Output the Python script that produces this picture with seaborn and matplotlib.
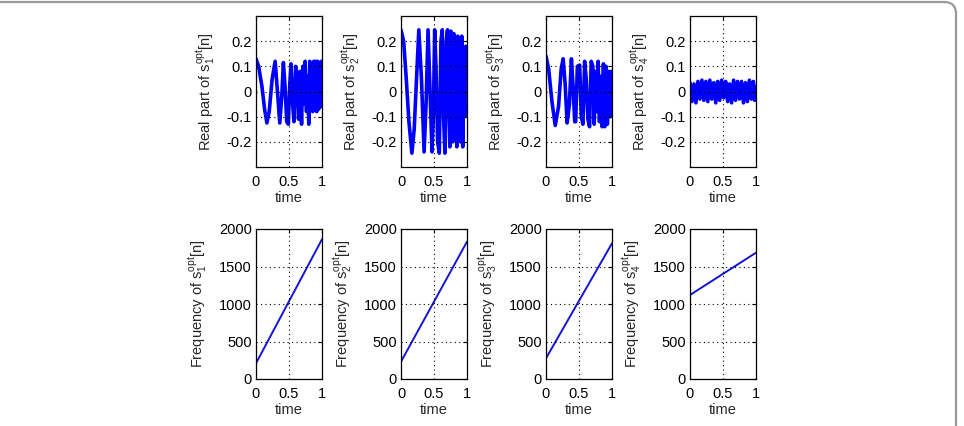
import numpy as np
import pandas as pd
import matplotlib
matplotlib.use("Agg")
import matplotlib.pyplot as plt
from matplotlib.patches import FancyBboxPatch
import seaborn as sns

# ---------------- data ----------------
t1 = [0.00, 0.04, 0.09, 0.13, 0.165, 0.20, 0.245, 0.29, 0.325, 0.36, 0.39, 0.415, 0.44,
      0.465, 0.49, 0.51, 0.53, 0.555, 0.575, 0.60, 0.62, 0.645, 0.665, 0.69, 0.71, 0.73,
      0.745, 0.765, 0.78, 0.80, 0.815, 0.83, 0.845, 0.86, 0.875, 0.89, 0.905, 0.92, 0.935,
      0.95, 0.965, 0.98, 0.99, 1.00]
v1 = [0.13, 0.10, 0.02, -0.07, -0.125, -0.08, 0.05, 0.12, 0.00, -0.125, -0.02, 0.115, 0.02,
      -0.12, -0.13, 0.02, 0.11, -0.05, -0.12, 0.10, 0.05, -0.11, 0.08, -0.13, 0.10, -0.05,
      0.12, -0.08, 0.06, -0.13, 0.12, -0.02, 0.10, -0.08, 0.12, -0.07, 0.12, -0.08, 0.12,
      -0.07, 0.10, -0.06, 0.12, 0.05]

t2 = [0.00, 0.04, 0.08, 0.12, 0.165, 0.20, 0.235, 0.27, 0.31, 0.35, 0.38, 0.41, 0.44, 0.47,
      0.49, 0.51, 0.53, 0.555, 0.58, 0.605, 0.625, 0.645, 0.665, 0.685, 0.705, 0.72, 0.74,
      0.755, 0.77, 0.785, 0.80, 0.815, 0.83, 0.845, 0.86, 0.875, 0.89, 0.905, 0.92, 0.935,
      0.95, 0.965, 0.98, 1.00]
v2 = [0.245, 0.20, 0.05, -0.12, -0.245, -0.15, 0.05, 0.245, 0.05, -0.24, -0.05, 0.245, 0.0,
      -0.24, -0.10, 0.245, 0.10, -0.20, -0.245, 0.20, 0.245, -0.10, -0.245, 0.20, 0.245,
      -0.05, -0.22, 0.24, 0.05, -0.20, 0.23, -0.10, 0.15, -0.22, 0.22, -0.05, 0.20, -0.20,
      0.22, -0.22, 0.15, -0.10, 0.18, 0.10]

t3 = [0.00, 0.04, 0.09, 0.14, 0.19, 0.23, 0.26, 0.29, 0.32, 0.355, 0.385, 0.41, 0.435, 0.45,
      0.475, 0.51, 0.535, 0.56, 0.585, 0.61, 0.635, 0.66, 0.685, 0.71, 0.73, 0.75, 0.77,
      0.79, 0.81, 0.83, 0.85, 0.87, 0.89, 0.91, 0.93, 0.95, 0.97, 0.99, 1.00]
v3 = [0.14, 0.09, -0.04, -0.135, -0.06, 0.09, 0.13, 0.03, -0.125, -0.05, 0.13, 0.02, -0.12,
      -0.12, 0.10, 0.105, -0.10, -0.13, 0.12, 0.05, -0.11, -0.14, 0.12, 0.10, -0.13, 0.08,
      -0.08, 0.12, -0.12, 0.06, -0.14, 0.11, -0.14, 0.10, -0.13, 0.08, -0.10, 0.08, 0.07]

t4 = [0.00, 0.03, 0.06, 0.09, 0.12, 0.15, 0.18, 0.21, 0.24, 0.27, 0.30, 0.33, 0.36, 0.39,
      0.42, 0.45, 0.48, 0.51, 0.54, 0.57, 0.60, 0.63, 0.66, 0.69, 0.72, 0.75, 0.78, 0.81,
      0.84, 0.87, 0.90, 0.93, 0.96, 0.98, 1.00]
v4 = [0.035, -0.04, 0.03, -0.045, 0.04, -0.03, 0.045, -0.035, 0.04, -0.04, 0.045, -0.03,
      0.035, -0.045, 0.04, -0.035, 0.045, -0.025, 0.04, -0.04, 0.03, -0.045, 0.045, -0.035,
      0.04, -0.03, 0.04, -0.045, 0.035, -0.04, 0.045, -0.03, 0.04, -0.035, 0.02]

freq_t = [0.0, 1.0]
f1 = [209, 1863]
f2 = [231, 1831]
f3 = [276, 1809]
f4 = [1120, 1684]

real_series = [(t1, v1), (t2, v2), (t3, v3), (t4, v4)]
freq_series = [f1, f2, f3, f4]
indices = ["1", "2", "3", "4"]

real_yticks = [-0.2, -0.1, 0, 0.1, 0.2]
real_yticklabels = ["-0.2", "-0.1", "0", "0.1", "0.2"]
freq_yticks = [0, 500, 1000, 1500, 2000]
xticks = [0, 0.5, 1]
xticklabels = ["0", "0.5", "1"]

# ---------------- style ----------------
sns.set_style("white")
plt.rcParams["font.family"] = ["Liberation Sans", "DejaVu Sans"]
plt.rcParams["mathtext.fontset"] = "custom"
plt.rcParams["mathtext.rm"] = "Liberation Sans"
plt.rcParams["mathtext.it"] = "Liberation Sans"
plt.rcParams["mathtext.bf"] = "Liberation Sans:bold"

W, H = 964, 426
fig = plt.figure(figsize=(W / 100, H / 100), dpi=100)
fig.patch.set_facecolor("white")

lefts = [256, 401, 546, 690]
ax_w = 66
top_row = (16, 167)
bot_row = (229, 379)


def style_axes(ax):
    for s in ax.spines.values():
        s.set_color("black")
        s.set_linewidth(0.9)
        s.set_visible(True)
    ax.tick_params(direction="in", length=3, width=0.8, top=True, right=True,
                   labelsize=10.5, colors="black", pad=3)
    ax.tick_params(axis="x", pad=5.5)
    ax.grid(True, linestyle=(0, (1, 3)), color="black", linewidth=0.8)
    ax.set_axisbelow(False)
    ax.set_facecolor("white")


for i in range(4):
    L = lefts[i]
    # top row
    ax = fig.add_axes([L / W, 1 - top_row[1] / H, ax_w / W, (top_row[1] - top_row[0]) / H])
    tt, vv = real_series[i]
    df = pd.DataFrame({"time": tt, "value": vv})
    sns.lineplot(data=df, x="time", y="value", ax=ax, color="#0000ff", linewidth=2.6,
                 estimator=None, sort=False)
    ax.set_xlim(0, 1)
    ax.set_ylim(-0.3, 0.3)
    ax.set_yticks(real_yticks)
    ax.set_yticklabels(real_yticklabels)
    ax.set_xticks(xticks)
    ax.set_xticklabels(xticklabels)
    ax.set_xlabel("time", fontsize=10.5, labelpad=2)
    ax.set_ylabel(r"Real part of $\mathregular{s_{%s}^{opt}}$[n]" % indices[i], fontsize=10.5,
                  labelpad=7)
    style_axes(ax)

    # bottom row
    ax2 = fig.add_axes([L / W, 1 - bot_row[1] / H, ax_w / W, (bot_row[1] - bot_row[0]) / H])
    dff = pd.DataFrame({"time": freq_t, "freq": freq_series[i]})
    sns.lineplot(data=dff, x="time", y="freq", ax=ax2, color="#1414d2", linewidth=1.4,
                 estimator=None, sort=False)
    ax2.set_xlim(0, 1)
    ax2.set_ylim(0, 2000)
    ax2.set_yticks(freq_yticks)
    ax2.set_xticks(xticks)
    ax2.set_xticklabels(xticklabels)
    ax2.set_xlabel("time", fontsize=10.5, labelpad=2)
    ax2.set_ylabel(r"Frequency of $\mathregular{s_{%s}^{opt}}$[n]" % indices[i], fontsize=10.5,
                   labelpad=7)
    style_axes(ax2)

# figure border (top edge and right edge with rounded corner)
border = FancyBboxPatch((-0.05, -0.05), 956 / W + 0.05, (1 - 2 / H) + 0.05,
                        boxstyle="round,pad=0,rounding_size=0.012",
                        mutation_aspect=W / H,
                        transform=fig.transFigure, fill=False,
                        edgecolor="#9a9a9a", linewidth=1.6, clip_on=False)
fig.patches.append(border)

fig.savefig("out.png", dpi=100, facecolor="white")
